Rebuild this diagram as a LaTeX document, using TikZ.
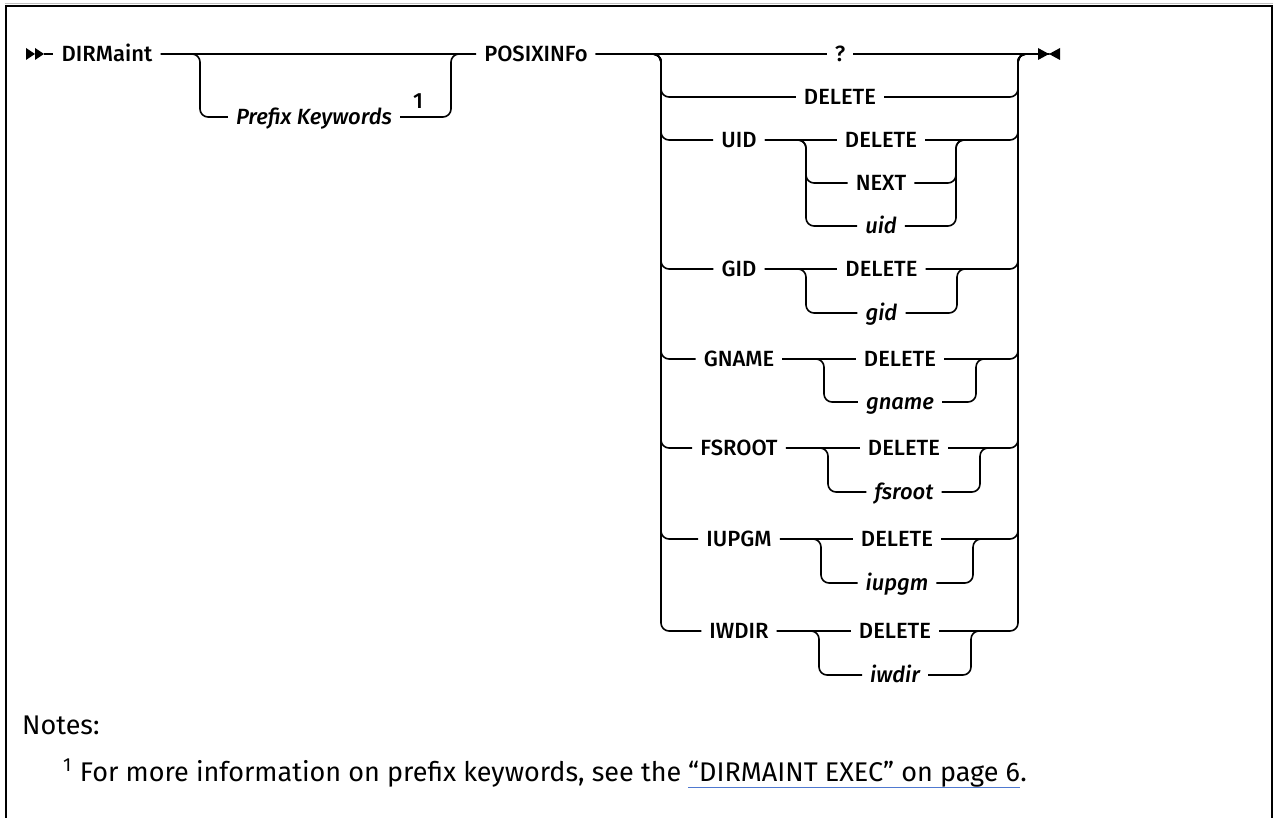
\documentclass[tikz,border=0pt]{standalone}
\usepackage{fontspec}
\setmainfont{Fira Sans}[UprightFont={* Medium}, ItalicFont={* Medium Italic}]
\newfontfamily\notefont{Fira Sans}
\usetikzlibrary{calc}
\definecolor{linkblue}{HTML}{4F79D0}
\begin{document}
\begin{tikzpicture}[x=1pt,y=-1pt,
  rr/.style={line width=1.6pt, rounded corners=8pt},
  kw/.style={font=\fontsize{22}{26}\selectfont, inner xsep=8pt, inner ysep=0pt, text height=15pt, text depth=0pt, anchor=center},
  var/.style={kw, font=\fontsize{22}{26}\selectfont\itshape},
  note/.style={font=\notefont\fontsize{27}{31}\selectfont, inner sep=0pt, anchor=base west}]
\useasboundingbox (0,0) rectangle (1273,818);
% frame
\draw[black!25, line width=1pt] (4.5,3.5) -- (1272.5,3.5);
\draw[line width=2pt] (5.5,818) -- (5.5,6) -- (1271.5,6) -- (1271.5,818);
% start / end tips
\fill (26,48) -- (35,54) -- (26,60) -- cycle;
\fill (35,48) -- (44,54) -- (35,60) -- cycle;
\coordinate (s) at (44,54);
\fill (1038,48) -- (1049,54) -- (1038,60) -- cycle;
\fill (1060,48) -- (1049,54) -- (1060,60) -- cycle;
\coordinate (e) at (1049,54);
% first part
\node[kw] (dirm) at (107,54) {DIRMaint};
\node[kw] (posix) at (536,54) {POSIXINFo};
\node[var] (prefix) at (314,117) {Prefix Keywords};
\node[font=\fontsize{22}{26}\selectfont, inner sep=0pt] (one) at (418,101) {1};
\coordinate (pl) at (200,117);
\coordinate (pr) at (451,117);
\draw[rr] (s) -- (dirm.west);
\draw[rr] (dirm.east) -- (posix.west);
\draw[rr] (dirm.east) -| (pl) -- (prefix.west);
\draw[rr] (prefix.east) -- (pr) |- (posix.west);
% main choice rows
\node[kw] (q) at (840,54) {?};
\node[kw] (del) at (840,97) {DELETE};
\node[kw] (uid) at (739,140) {UID};
\node[kw] (gid) at (739,269) {GID};
\node[kw] (gname) at (739,359) {GNAME};
\node[kw] (fsroot) at (739,448) {FSROOT};
\node[kw] (iupgm) at (739,539) {IUPGM};
\node[kw] (iwdir) at (739,631) {IWDIR};
% UID sub
\node[kw] (uiddel) at (881,140) {DELETE};
\node[kw] (uidnext) at (881,183) {NEXT};
\node[var] (uidv) at (881,226) {uid};
% GID sub
\node[kw] (giddel) at (881.5,269) {DELETE};
\node[var] (gidv) at (881.5,313) {gid};
% GNAME sub
\node[kw] (gnamedel) at (900,359) {DELETE};
\node[var] (gnamev) at (900,402) {gname};
% FSROOT sub
\node[kw] (fsrootdel) at (904,448) {DELETE};
\node[var] (fsrootv) at (904,492) {fsroot};
% IUPGM sub
\node[kw] (iupgmdel) at (897,539) {DELETE};
\node[var] (iupgmv) at (897,583) {iupgm};
% IWDIR sub
\node[kw] (iwdirdel) at (895,631) {DELETE};
\node[var] (iwdirv) at (895,675) {iwdir};
% left bus coordinates (x=661)
\coordinate (L1) at (661,97);
\coordinate (L2) at (661,140);
\coordinate (L5) at (661,269);
\coordinate (L7) at (661,359);
\coordinate (L9) at (661,448);
\coordinate (L11) at (661,539);
\coordinate (L13) at (661,631);
% right bus coordinates (x=1018)
\coordinate (R1) at (1018,97);
\coordinate (R2) at (1018,140);
\coordinate (R5) at (1018,269);
\coordinate (R7) at (1018,359);
\coordinate (R9) at (1018,448);
\coordinate (R11) at (1018,539);
\coordinate (R13) at (1018,631);
% joins between sub-branch and main bus
\coordinate (J2) at (990,140);
\coordinate (J5) at (990,269);
\coordinate (J7) at (997,359);
\coordinate (J9) at (999,448);
\coordinate (J11) at (995,539);
\coordinate (J13) at (994,631);
% top row
\draw[rr] (posix.east) -- (q.west);
\draw[rr] (q.east) -- (e);
% other main rows
\draw[rr] (posix.east) -| (L1) -- (del.west);
\draw[rr] (del.east) -- (R1) |- (e);
\draw[rr] (posix.east) -| (L2) -- (uid.west);
\draw[rr] (uid.east) -- (uiddel.west);
\draw[rr] (uiddel.east) -- (R2) |- (e);
\draw[rr] (posix.east) -| (L5) -- (gid.west);
\draw[rr] (gid.east) -- (giddel.west);
\draw[rr] (giddel.east) -- (R5) |- (e);
\draw[rr] (posix.east) -| (L7) -- (gname.west);
\draw[rr] (gname.east) -- (gnamedel.west);
\draw[rr] (gnamedel.east) -- (R7) |- (e);
\draw[rr] (posix.east) -| (L9) -- (fsroot.west);
\draw[rr] (fsroot.east) -- (fsrootdel.west);
\draw[rr] (fsrootdel.east) -- (R9) |- (e);
\draw[rr] (posix.east) -| (L11) -- (iupgm.west);
\draw[rr] (iupgm.east) -- (iupgmdel.west);
\draw[rr] (iupgmdel.east) -- (R11) |- (e);
\draw[rr] (posix.east) -| (L13) -- (iwdir.west);
\draw[rr] (iwdir.east) -- (iwdirdel.west);
\draw[rr] (iwdirdel.east) -- (R13) |- (e);
% sub-branch bus coordinates
\coordinate (u1) at (806,183); \coordinate (u2) at (806,226);
\coordinate (u3) at (956,183); \coordinate (u4) at (956,226);
\draw[rr] (uid.east) -| (u1) -- (uidnext.west);
\draw[rr] (uid.east) -| (u2) -- (uidv.west);
\draw[rr] (uidnext.east) -- (u3) |- (J2);
\draw[rr] (uidv.east) -- (u4) |- (J2);
\coordinate (g1) at (806,313); \coordinate (g2) at (957,313);
\draw[rr] (gid.east) -| (g1) -- (gidv.west);
\draw[rr] (gidv.east) -- (g2) |- (J5);
\coordinate (n1) at (824,402); \coordinate (n2) at (976,402);
\draw[rr] (gname.east) -| (n1) -- (gnamev.west);
\draw[rr] (gnamev.east) -- (n2) |- (J7);
\coordinate (f1) at (828,492); \coordinate (f2) at (980,492);
\draw[rr] (fsroot.east) -| (f1) -- (fsrootv.west);
\draw[rr] (fsrootv.east) -- (f2) |- (J9);
\coordinate (p1) at (821,583); \coordinate (p2) at (973,583);
\draw[rr] (iupgm.east) -| (p1) -- (iupgmv.west);
\draw[rr] (iupgmv.east) -- (p2) |- (J11);
\coordinate (w1) at (819,675); \coordinate (w2) at (971,675);
\draw[rr] (iwdir.east) -| (w1) -- (iwdirv.west);
\draw[rr] (iwdirv.east) -- (w2) |- (J13);
% notes
\node[note] (notes) at (22,734) {Notes:};
\node[note] (fn) at (63,781) {\textsuperscript{1}\hspace{0.3em}For more information on prefix keywords, see the};
\node[note] (lnk) at ([xshift=6.5pt]fn.base east) {“DIRMAINT EXEC” on page 6};
\node[note] (dot) at (lnk.base east) {.};
\draw[linkblue, line width=1.3pt] ([yshift=-6.5pt]lnk.base west) -- ([yshift=-6.5pt]lnk.base east);
\end{tikzpicture}
\end{document}
